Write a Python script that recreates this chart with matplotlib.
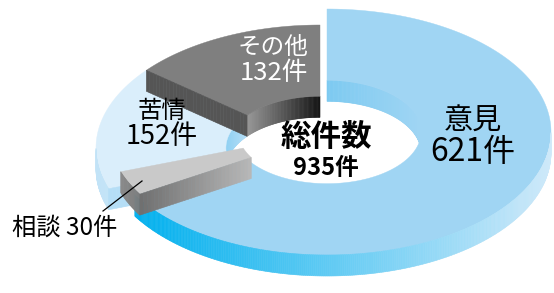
import numpy as np
import matplotlib.pyplot as plt
from matplotlib.patches import Polygon
from matplotlib.colors import to_rgb

plt.rcParams['font.family'] = ['Noto Sans CJK JP', 'DejaVu Sans']

# data (clockwise from 12 o'clock)
labels = ['意見', '相談', '苦情', 'その他']
counts = [621, 30, 152, 132]
total_title = '総件数'
unit = '件'

# layout in pixels
W, H = 554, 293
RX, RY = 224, 123
HOLE = 0.42
DEPTH = 21
centers = {'意見': (327, 132), '相談': (332, 131), '苦情': (320, 148), 'その他': (320, 148)}

# colours: top, outer wall (left, right), inner wall (left, right), cut face (inner, outer)
top_col = {'意見': '#a0d5f3', '相談': '#c9c9c9', '苦情': '#daeefb', 'その他': '#7f7f7f'}
outer_col = {'意見': ('#00b0ee', '#cfe9f9'), '相談': ('#8a8a8a', '#7a7a7a'),
             '苦情': ('#c2e3f7', '#c8e6f8'), 'その他': ('#555555', '#333333')}
inner_col = {'意見': ('#5cc0ef', '#a0d5f3'), '相談': ('#999999', '#999999'),
             '苦情': ('#8fd0f2', '#b5def6'), 'その他': ('#9a9a9a', '#111111')}
cut_col = {'意見': ('#7ccaf0', '#7ccaf0'), '相談': ('#6f6f6f', '#b8b8b8'),
           '苦情': ('#b5def6', '#b5def6'), 'その他': ('#555555', '#555555')}

fig = plt.figure(figsize=(W / 100, H / 100), dpi=100)
ax = fig.add_axes([0, 0, 1, 1])
ax.set_xlim(0, W)
ax.set_ylim(H, 0)
ax.axis('off')


def pt(c, th, r, z=0.0):
    t = np.radians(th)
    return c[0] + r * RX * np.cos(t), c[1] - r * RY * np.sin(t) + z


def mix(c1, c2, f):
    a, b = np.array(to_rgb(c1)), np.array(to_rgb(c2))
    f = min(max(f, 0), 1)
    return tuple(a + (b - a) * f)


def wall(c, th1, th2, r, cols, visible, zorder):
    # band hanging down from an arc, drawn in thin strips for a horizontal gradient
    ths = np.linspace(th1, th2, max(int(abs(th2 - th1) * 2), 2))
    xs_all = [pt(c, t, r)[0] for t in ths]
    x0, x1 = min(xs_all), max(xs_all)
    for a, b in zip(ths[:-1], ths[1:]):
        m = (a + b) / 2
        if not visible(np.sin(np.radians(m))):
            continue
        pa, pb = pt(c, a, r), pt(c, b, r)
        quad = [pa, pb, (pb[0], pb[1] + DEPTH), (pa[0], pa[1] + DEPTH)]
        xm = (pa[0] + pb[0]) / 2
        f = (xm - x0) / (x1 - x0) if x1 > x0 else 0
        col = mix(cols[0], cols[1], f)
        ax.add_patch(Polygon(quad, closed=True, fc=col, ec=col, lw=0.4, zorder=zorder))


def segment(name, th_s, th_e, z0):
    c = centers[name]
    # inner wall seen through the hole
    wall(c, th_s, th_e, HOLE, inner_col[name], lambda s: s > 0, z0)
    # top face
    ths = np.linspace(th_s, th_e, 200)
    outer = [pt(c, t, 1) for t in ths]
    inner = [pt(c, t, HOLE) for t in ths[::-1]]
    ax.add_patch(Polygon(outer + inner, closed=True, fc=top_col[name], ec=top_col[name],
                         lw=0.3, zorder=z0 + 1))
    # outer wall at the front
    wall(c, th_s, th_e, 1, outer_col[name], lambda s: s < 0, z0 + 2)
    # cut faces that face the viewer
    for th, sign in ((th_s, 1), (th_e, -1)):
        if sign * np.cos(np.radians(th)) < -1e-6:
            pi, po = pt(c, th, HOLE), pt(c, th, 1)
            n = 30
            for k in range(n):
                f0, f1 = k / n, (k + 1) / n
                a = (pi[0] + (po[0] - pi[0]) * f0, pi[1] + (po[1] - pi[1]) * f0)
                b = (pi[0] + (po[0] - pi[0]) * f1, pi[1] + (po[1] - pi[1]) * f1)
                quad = [a, b, (b[0], b[1] + DEPTH), (a[0], a[1] + DEPTH)]
                col = mix(cut_col[name][1], cut_col[name][0], (f0 + f1) / 2)
                ax.add_patch(Polygon(quad, closed=True, fc=col, ec=col, lw=0.4, zorder=z0 + 3))


total = sum(counts)
cum = np.concatenate([[0], np.cumsum(counts)])
bounds = {lab: (90 - 360 * cum[i] / total, 90 - 360 * cum[i + 1] / total) for i, lab in enumerate(labels)}

# lower pieces first, raised pieces on top
draw_order = ['苦情', 'その他', '意見', '相談']
for k, lab in enumerate(draw_order):
    segment(lab, bounds[lab][0], bounds[lab][1], 10 * (k + 1))

vals = dict(zip(labels, counts))
ax.text(473, 122, labels[0], fontsize=21, ha='center', va='center', zorder=100)
ax.text(473, 152, f'{vals["意見"]}{unit}', fontsize=23, ha='center', va='center', zorder=100)
ax.text(162, 111, '苦情', fontsize=17.5, ha='center', va='center', zorder=100)
ax.text(162, 136, f'{vals["苦情"]}{unit}', fontsize=19.5, ha='center', va='center', zorder=100)
ax.text(273, 47, 'その他', fontsize=17, ha='center', va='center', color='white', zorder=100)
ax.text(274, 73, f'{vals["その他"]}{unit}', fontsize=18.5, ha='center', va='center', color='white', zorder=100)
ax.text(326, 137, total_title, fontsize=22, fontweight='bold', ha='center', va='center', zorder=100)
ax.text(326, 168, f'{total}{unit}', fontsize=17, fontweight='bold', ha='center', va='center', zorder=100)
ax.text(12, 228, f'相談 {vals["相談"]}{unit}', fontsize=17.5, ha='left', va='center', zorder=100)
ax.plot([103, 142], [211, 181], color='black', lw=0.9, zorder=100)

fig.savefig('out.png', dpi=100)
